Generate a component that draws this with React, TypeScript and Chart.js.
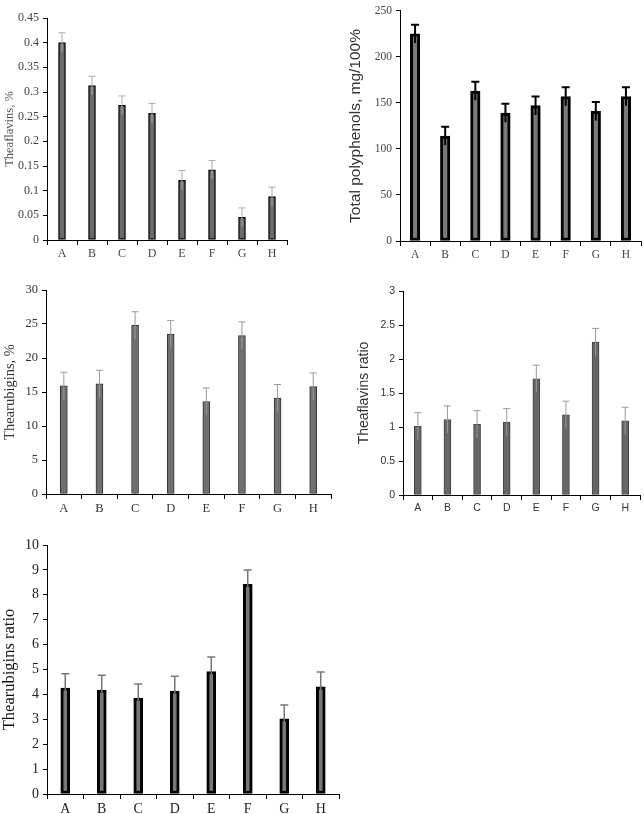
import React, { useEffect, useRef } from "react";
import { Chart, registerables } from "chart.js";
Chart.register(...registerables);

const categories = ["A", "B", "C", "D", "E", "F", "G", "H"];

const theaflavins = [0.4, 0.313, 0.273, 0.257, 0.121, 0.142, 0.046, 0.088];
const theaflavinsErr = [0.02, 0.019, 0.019, 0.02, 0.02, 0.019, 0.019, 0.019];

const polyphenols = [225, 114, 163, 139, 147, 157, 141, 157];
const polyphenolsErr = [10, 10, 10, 10, 10, 10, 10, 10];

const thearubigins = [15.9, 16.2, 24.8, 23.5, 13.6, 23.3, 14.1, 15.8];
const thearubiginsErr = [2, 2, 2, 2, 2, 2, 2, 2];

const tfRatio = [1.01, 1.11, 1.04, 1.07, 1.71, 1.18, 2.25, 1.09];
const tfRatioErr = [0.2, 0.2, 0.2, 0.2, 0.2, 0.2, 0.2, 0.2];

const trRatio = [4.25, 4.17, 3.85, 4.13, 4.92, 8.42, 3.02, 4.3];
const trRatioErr = [0.58, 0.6, 0.57, 0.6, 0.58, 0.58, 0.55, 0.6];

const SERIF = "'Liberation Serif', 'DejaVu Serif', serif";
const SANS = "'Liberation Sans', Arial, sans-serif";

type Panel = {
  title: string;
  values: number[];
  errors: number[];
  yMax: number;
  yStep: number;
  left: number;
  top: number;
  width: number;
  height: number;
  axisLeft: number;
  axisRight: number;
  areaTop: number;
  areaBottom: number;
  titleFont: string;
  titleSize: number;
  titleColor: string;
  titlePad: number;
  tickFont: string;
  tickSize: number;
  tickColor: string;
  barFill: string;
  barBorder: string;
  barBorderWidth: number;
  barThickness: number;
  errColor: string;
  errWidth: number;
  capWidth: number;
};

const panels: Panel[] = [
  {
    title: "Theaflavins, %",
    values: theaflavins,
    errors: theaflavinsErr,
    yMax: 0.45,
    yStep: 0.05,
    left: 0, top: 0, width: 322, height: 262,
    axisLeft: 47, axisRight: 287, areaTop: 18, areaBottom: 240,
    titleFont: SERIF, titleSize: 12.5, titleColor: "#555", titlePad: 2,
    tickFont: SERIF, tickSize: 12, tickColor: "#444",
    barFill: "#6a6a6a", barBorder: "#111", barBorderWidth: 1.5, barThickness: 7,
    errColor: "#aaa", errWidth: 1, capWidth: 7,
  },
  {
    title: "Total polyphenols, mg/100%",
    values: polyphenols,
    errors: polyphenolsErr,
    yMax: 250,
    yStep: 50,
    left: 322, top: 0, width: 322, height: 262,
    axisLeft: 78, axisRight: 319, areaTop: 6, areaBottom: 241,
    titleFont: SANS, titleSize: 15.5, titleColor: "#333", titlePad: 24,
    tickFont: SERIF, tickSize: 11.5, tickColor: "#444",
    barFill: "#7a7a7a", barBorder: "#000", barBorderWidth: 3, barThickness: 9.5,
    errColor: "#000", errWidth: 2, capWidth: 8,
  },
  {
    title: "Thearubigins, %",
    values: thearubigins,
    errors: thearubiginsErr,
    yMax: 30,
    yStep: 5,
    left: 0, top: 260, width: 340, height: 262,
    axisLeft: 46, axisRight: 331, areaTop: 30, areaBottom: 234,
    titleFont: SERIF, titleSize: 14.5, titleColor: "#333", titlePad: 1,
    tickFont: SERIF, tickSize: 12.5, tickColor: "#333",
    barFill: "#707070", barBorder: "#333", barBorderWidth: 1, barThickness: 7,
    errColor: "#999", errWidth: 1, capWidth: 7,
  },
  {
    title: "Theaflavins ratio",
    values: tfRatio,
    errors: tfRatioErr,
    yMax: 3,
    yStep: 0.5,
    left: 322, top: 260, width: 322, height: 262,
    axisLeft: 81, axisRight: 318, areaTop: 31, areaBottom: 235,
    titleFont: SANS, titleSize: 14, titleColor: "#333", titlePad: 34,
    tickFont: SANS, tickSize: 10.5, tickColor: "#333",
    barFill: "#666", barBorder: "#444", barBorderWidth: 1, barThickness: 7,
    errColor: "#999", errWidth: 1, capWidth: 7,
  },
  {
    title: "Thearubigins ratio",
    values: trRatio,
    errors: trRatioErr,
    yMax: 10,
    yStep: 1,
    left: 0, top: 520, width: 345, height: 294,
    axisLeft: 47, axisRight: 339, areaTop: 25, areaBottom: 274,
    titleFont: SERIF, titleSize: 16.5, titleColor: "#111", titlePad: 0,
    tickFont: SERIF, tickSize: 14, tickColor: "#222",
    barFill: "#777", barBorder: "#000", barBorderWidth: 3, barThickness: 9,
    errColor: "#777", errWidth: 1.5, capWidth: 8,
  },
];

function makeErrorPlugin(p: Panel) {
  return {
    id: "errorBars",
    afterDatasetsDraw(chart: any) {
      const meta = chart.getDatasetMeta(0);
      const y = chart.scales.y;
      const ctx = chart.ctx;
      ctx.save();
      ctx.strokeStyle = p.errColor;
      ctx.lineWidth = p.errWidth;
      meta.data.forEach((bar: any, i: number) => {
        const v = p.values[i];
        const e = p.errors[i];
        const yTop = y.getPixelForValue(v + e);
        const yBot = y.getPixelForValue(v - e);
        const x = bar.x;
        ctx.beginPath();
        ctx.moveTo(x, yBot);
        ctx.lineTo(x, yTop);
        ctx.moveTo(x - p.capWidth / 2, yTop);
        ctx.lineTo(x + p.capWidth / 2, yTop);
        ctx.stroke();
      });
      ctx.restore();
    },
  };
}

function PanelChart({ p }: { p: Panel }) {
  const ref = useRef<HTMLCanvasElement | null>(null);
  useEffect(() => {
    if (!ref.current) return;
    const yWidth = p.axisLeft;
    const xHeight = p.height - p.areaBottom;
    const chart = new Chart(ref.current, {
      type: "bar",
      data: {
        labels: categories,
        datasets: [
          {
            data: p.values,
            backgroundColor: p.barFill,
            borderColor: p.barBorder,
            borderWidth: p.barBorderWidth,
            barThickness: p.barThickness,
            borderSkipped: false,
          },
        ],
      },
      options: {
        animation: false,
        responsive: false,
        maintainAspectRatio: false,
        layout: {
          padding: { left: 0, top: p.areaTop, right: p.width - p.axisRight, bottom: 0 },
        },
        plugins: { legend: { display: false }, tooltip: { enabled: false } },
        scales: {
          x: {
            offset: true,
            grid: { display: true, drawOnChartArea: false, drawTicks: true, tickLength: 5, color: "#000", offset: true },
            border: { display: true, color: "#000", width: 1 },
            ticks: {
              color: p.tickColor,
              font: { family: p.tickFont, size: p.tickSize },
              padding: 2,
              maxRotation: 0,
              autoSkip: false,
            },
            afterFit: (s: any) => {
              s.height = xHeight;
            },
          },
          y: {
            min: 0,
            max: p.yMax,
            grid: { display: true, drawOnChartArea: false, drawTicks: true, tickLength: 4, color: "#000" },
            border: { display: true, color: "#000", width: 1 },
            ticks: {
              stepSize: p.yStep,
              color: p.tickColor,
              font: { family: p.tickFont, size: p.tickSize },
              padding: 4,
              callback: (v: any) => String(Math.round(Number(v) * 100) / 100),
            },
            title: {
              display: true,
              text: p.title,
              color: p.titleColor,
              font: { family: p.titleFont, size: p.titleSize },
              padding: { top: p.titlePad, bottom: 0 },
            },
            afterFit: (s: any) => {
              s.width = yWidth;
            },
          },
        },
      },
      plugins: [makeErrorPlugin(p)],
    });
    return () => chart.destroy();
  }, [p]);
  return (
    <canvas
      ref={ref}
      width={p.width}
      height={p.height}
      style={{ position: "absolute", left: p.left, top: p.top, width: p.width, height: p.height }}
    />
  );
}

export default function App() {
  return (
    <div style={{ position: "absolute", left: 0, top: 0, width: 644, height: 814, background: "#fff" }}>
      {panels.map((p, i) => (
        <PanelChart key={i} p={p} />
      ))}
    </div>
  );
}
